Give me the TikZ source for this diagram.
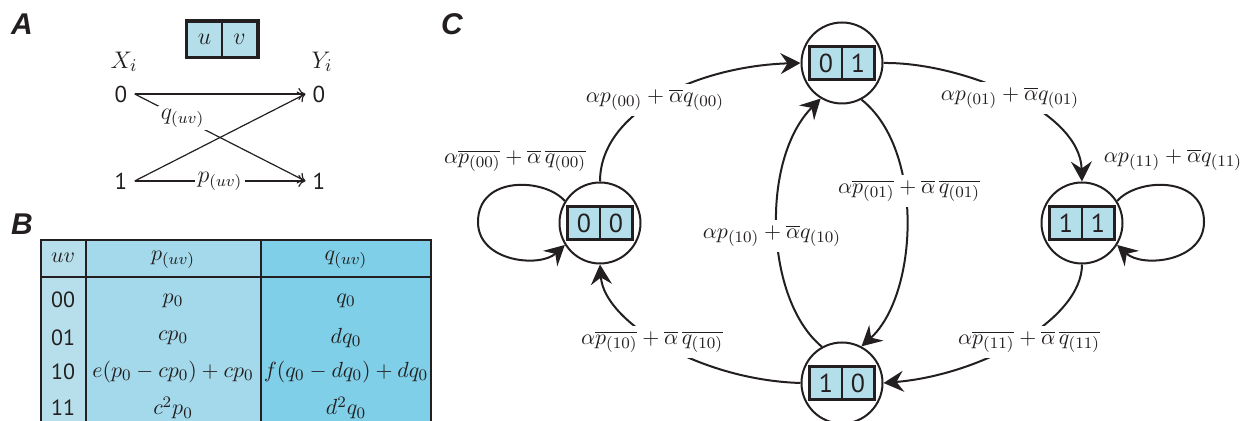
\documentclass[tikz,border=0pt]{standalone}
\usepackage{fontspec}
\newfontfamily\digf{PT Sans}
\newfontfamily\panf{Liberation Sans}
\usetikzlibrary{arrows.meta}
\definecolor{ink}{HTML}{231F20}
\definecolor{cellblue}{HTML}{B4DFEA}
\definecolor{coluv}{HTML}{B7DFEB}
\definecolor{colp}{HTML}{A3D9EA}
\definecolor{colq}{HTML}{7ECFE7}
\tikzset{
  panel/.style={font=\panf\bfseries\itshape\fontsize{15}{17}\selectfont, inner sep=0pt, text=ink},
  digA/.style={font=\digf\fontsize{11.5}{13}\selectfont, inner sep=3.5pt, text=ink},
  mathA/.style={font=\fontsize{12.5}{14}\selectfont, inner sep=0pt, text=ink},
  arrA/.style={draw=ink, line width=0.6pt, -{To[length=3.5pt,width=6pt]}},
  lblA/.style={fill=white, inner sep=1.5pt, font=\fontsize{12}{14}\selectfont, text=ink},
  cellA/.style={draw=ink, fill=cellblue, line width=1pt, minimum size=17.5pt, inner sep=0pt, font=\fontsize{12}{14}\selectfont, text=ink},
  frame/.style={draw=ink, line width=1.5pt},
  tbl/.style={draw=ink, line width=1.3pt},
  tdig/.style={font=\digf\fontsize{11}{13}\selectfont, inner sep=0pt, text=ink},
  tmath/.style={font=\fontsize{11}{13}\selectfont, inner sep=0pt, text=ink},
  state/.style={circle, draw=ink, line width=1pt, minimum size=40.5pt, inner sep=0pt, fill=white},
  cellC/.style={draw=ink, fill=cellblue, line width=0.9pt, minimum size=16pt, inner sep=0pt, font=\digf\fontsize{13}{15}\selectfont, text=ink},
  tr/.style={draw=ink, line width=1pt, -{Stealth[length=10pt,width=10.5pt,inset=3.5pt]}},
  lab/.style={fill=white, inner sep=2.5pt, font=\fontsize{11}{13}\selectfont, text=ink},
}
\begin{document}
\begin{tikzpicture}[x=0.5pt,y=-0.5pt]
\useasboundingbox (0,0) rectangle (1243,421);

% ---------- Panel A ----------
\node[panel] (pA) at (22,24) {A};
\node[cellA] (au) at (204.5,39.5) {$u$};
\node[cellA] (av) at (239.5,39.5) {$v$};
\draw[frame] (au.north west) rectangle (av.south east);
\node[mathA] (xi) at (124,62) {$X_i$};
\node[mathA] (yi) at (322,62) {$Y_i$};
\node[digA] (x0) at (121,94) {0};
\node[digA] (x1) at (121,181) {1};
\node[digA] (y0) at (319,94) {0};
\node[digA] (y1) at (319,181) {1};
\draw[arrA] (x0.east) -- (y0.west);
\draw[arrA] (x1.east) -- (y0.west);
\draw[arrA] (x0.east) -- node[lblA, pos=0.28] (lq) {$q_{(uv)}$} (y1.west);
\draw[arrA] (x1.east) -- node[lblA, pos=0.5] (lp) {$p_{(uv)}$} (y1.west);

% ---------- Panel B ----------
\node[panel] (pB) at (22,224) {B};
\begin{scope}
\clip (0,0) rectangle (1243,421);
\fill[coluv] (41,240) rectangle (86,430);
\fill[colp] (86,240) rectangle (261,430);
\fill[colq] (261,240) rectangle (431,430);
\draw[tbl] (41,430) -- (41,240) -- (431,240) -- (431,430);
\draw[tbl] (86,240) -- (86,430);
\draw[tbl] (261,240) -- (261,430);
\draw[tbl] (41,277) -- (431,277);
\end{scope}
\node[tmath] (h1) at (63,258) {$uv$};
\node[tmath] (h2) at (173,260) {$p_{(uv)}$};
\node[tmath] (h3) at (346,260) {$q_{(uv)}$};
\node[tdig] (r1) at (63,300) {00};
\node[tdig] (r2) at (63,338) {01};
\node[tdig] (r3) at (63,372) {10};
\node[tdig] (r4) at (63,408) {11};
\node[tmath] (p1) at (173,301) {$p_0$};
\node[tmath] (p2) at (173,338) {$cp_0$};
\node[tmath] (p3) at (173,372) {$e(p_0-cp_0)+cp_0$};
\node[tmath] (p4) at (173,408) {$c^2p_0$};
\node[tmath] (q1) at (346,301) {$q_0$};
\node[tmath] (q2) at (346,338) {$dq_0$};
\node[tmath] (q3) at (346,372) {$f(q_0-dq_0)+dq_0$};
\node[tmath] (q4) at (346,408) {$d^2q_0$};

% ---------- Panel C ----------
\node[panel] (pC) at (452,24) {C};
\node[state] (s00) at (600,223) {};
\node[state] (s01) at (842,63) {};
\node[state] (s11) at (1082,223) {};
\node[state] (s10) at (842,383) {};
\foreach \n/\a/\b in {s00/0/0, s01/0/1, s11/1/1, s10/1/0}{
  \node[cellC] (\n a) at ([xshift=-8pt]\n.center) {\a};
  \node[cellC] (\n b) at ([xshift=8pt]\n.center) {\b};
  \draw[frame] (\n a.north west) rectangle (\n b.south east);
}
% transitions
\draw[tr] (s00.north) .. controls (600,110) and (700,66) .. (s01.west);
\draw[tr] (s01.east) .. controls (960,62) and (1080,110) .. (s11.north);
\draw[tr] (s01.-62) .. controls (925,150) and (918,295) .. (s10.62);
\draw[tr] (s10.119) .. controls (765,300) and (760,160) .. (s01.239);
\draw[tr] (s11.south) .. controls (1082,320) and (980,375) .. (s10.east);
\draw[tr] (s10.west) .. controls (700,380) and (604,322) .. (s00.south);
\draw[tr] (s00.148) .. controls (545,178) and (478,175) .. (478,222)
          .. controls (478,262) and (540,268) .. (s00.212);
\draw[tr] (s11.32) .. controls (1137,178) and (1204,175) .. (1204,222)
          .. controls (1204,262) and (1142,268) .. (s11.-32);
% labels
\node[lab] (l1) at (655,100) {$\alpha p_{(00)}+\overline{\alpha}q_{(00)}$};
\node[lab] (l2) at (1010,98) {$\alpha p_{(01)}+\overline{\alpha}q_{(01)}$};
\node[lab] (l3) at (909,191) {$\alpha\overline{p_{(01)}}+\overline{\alpha}\,\overline{q_{(01)}}$};
\node[lab] (l4) at (772,236) {$\alpha p_{(10)}+\overline{\alpha}q_{(10)}$};
\node[lab] (l5) at (1029,342) {$\alpha\overline{p_{(11)}}+\overline{\alpha}\,\overline{q_{(11)}}$};
\node[lab] (l6) at (652,342) {$\alpha\overline{p_{(10)}}+\overline{\alpha}\,\overline{q_{(10)}}$};
\node[lab] (l7) at (515,161) {$\alpha\overline{p_{(00)}}+\overline{\alpha}\,\overline{q_{(00)}}$};
\node[lab] (l8) at (1173,160) {$\alpha p_{(11)}+\overline{\alpha}q_{(11)}$};
\end{tikzpicture}
\end{document}
